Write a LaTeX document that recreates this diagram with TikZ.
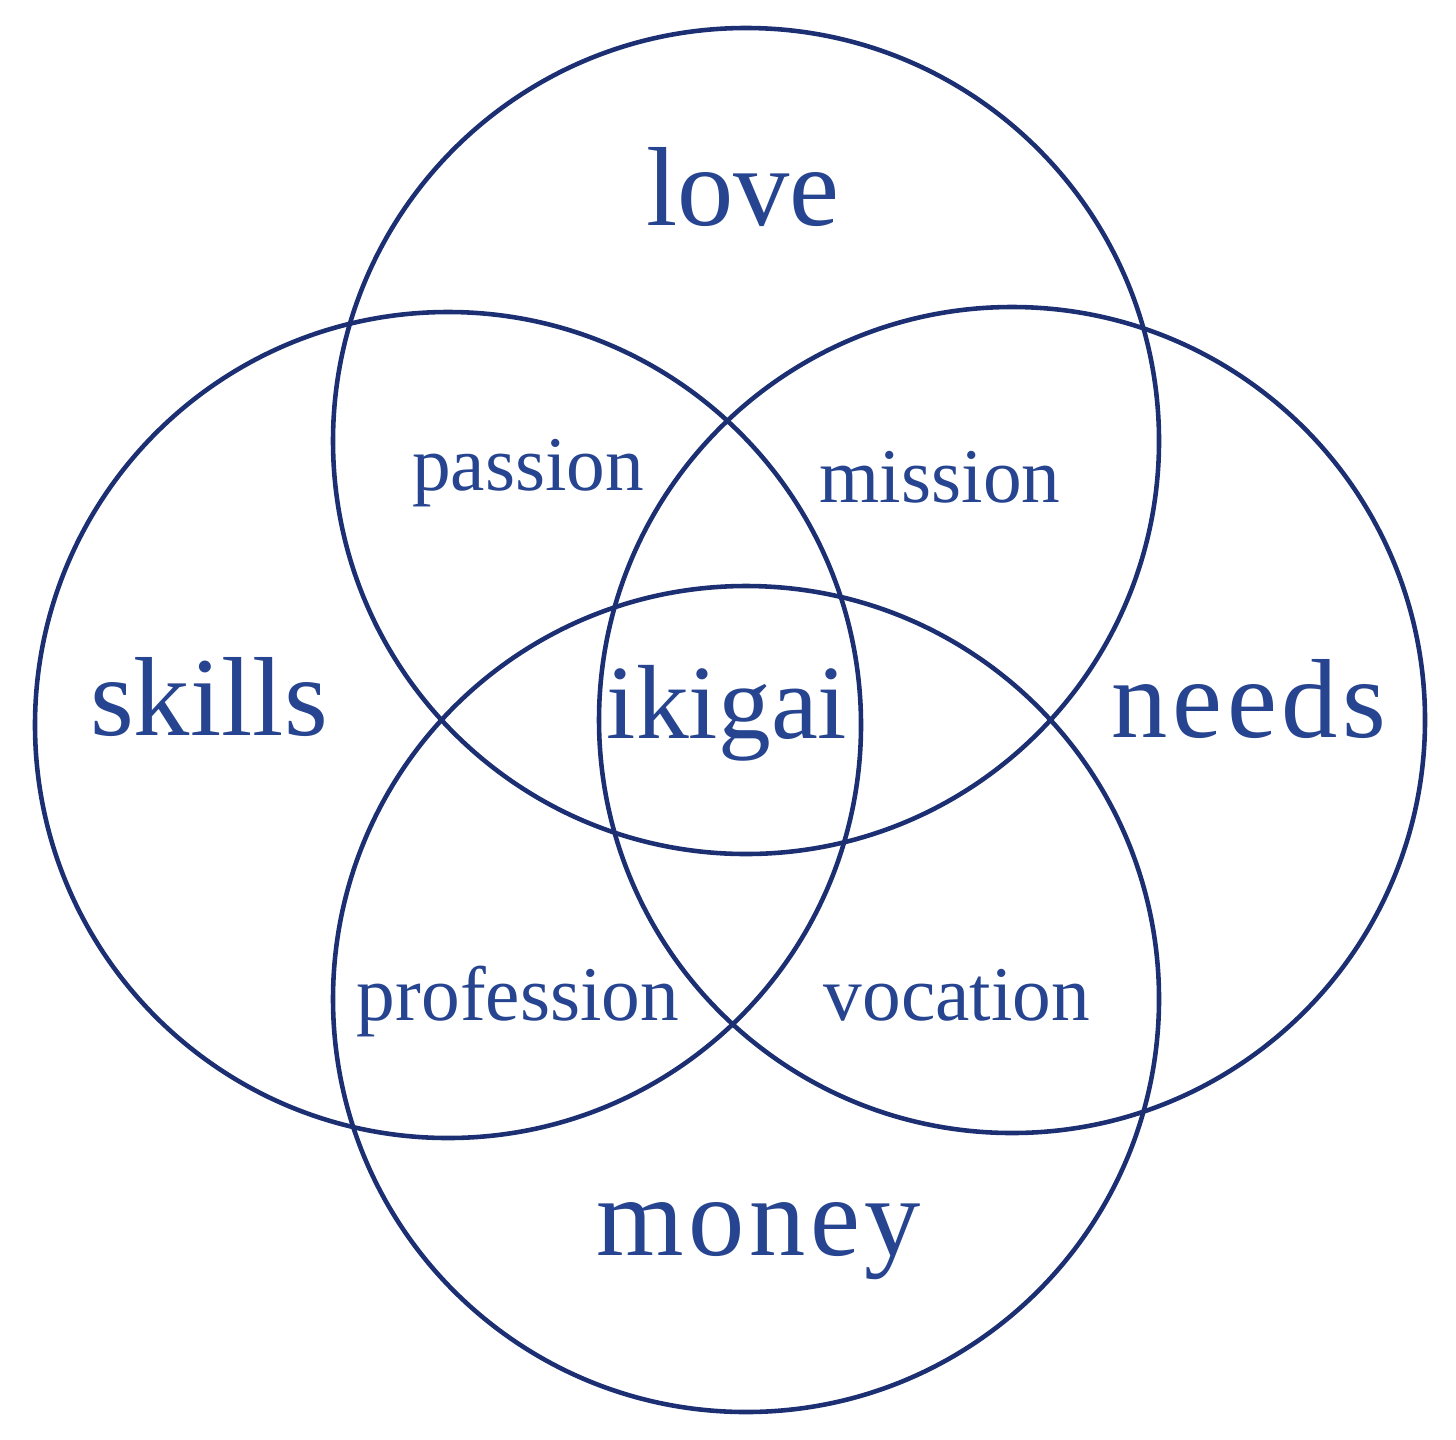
\documentclass[tikz,border=0pt]{standalone}
\usepackage{fontspec}
\usepackage{tikz}
\usepackage{xcolor}
\newfontfamily\ikifont{Liberation Serif}
\newfontfamily\ikiwide[LetterSpace=4]{Liberation Serif}
\definecolor{ringblue}{HTML}{1B2F72}
\definecolor{textblue}{HTML}{26448F}

\begin{document}
\begin{tikzpicture}[
		ring/.style={circle,draw=ringblue,line width=1.3pt,minimum size=8.26cm,inner sep=0pt},
		big/.style={anchor=base,text=textblue,font=\ikifont\fontsize{32}{36}\selectfont},
		small/.style={anchor=base,text=textblue,font=\ikifont\fontsize{22}{26}\selectfont}
	]
		\useasboundingbox (0,0) rectangle (14.56,14.39);
		% 四个圆
		\node[ring] (cLove) at (7.46,9.98) {};
		\node[ring] (cSkills) at (4.48,7.14) {};
		\node[ring] (cNeeds) at (10.12,7.19) {};
		\node[ring] (cMoney) at (7.46,4.40) {};
	
		% 主标签
		\node[big] (love) at (7.43,12.14) {love};
		\node[big] (skills) at (2.09,7.04) {skills};
		\node[big,font=\ikiwide\fontsize{32}{36}\selectfont] (needs) at (12.49,7.02) {needs};
		\node[big,font=\ikiwide\fontsize{32}{36}\selectfont] (money) at (7.59,1.84) {money};
		\node[big,font=\ikifont\fontsize{30}{34}\selectfont] (ikigai) at (7.27,7.01) {ikigai};
	
		% 交集标签
		\node[small] (passion) at (5.28,9.49) {passion};
		\node[small] (mission) at (9.40,9.37) {mission};
		\node[small] (profession) at (5.18,4.19) {profession};
		\node[small] (vocation) at (9.57,4.19) {vocation};
	\end{tikzpicture}
\end{document}
